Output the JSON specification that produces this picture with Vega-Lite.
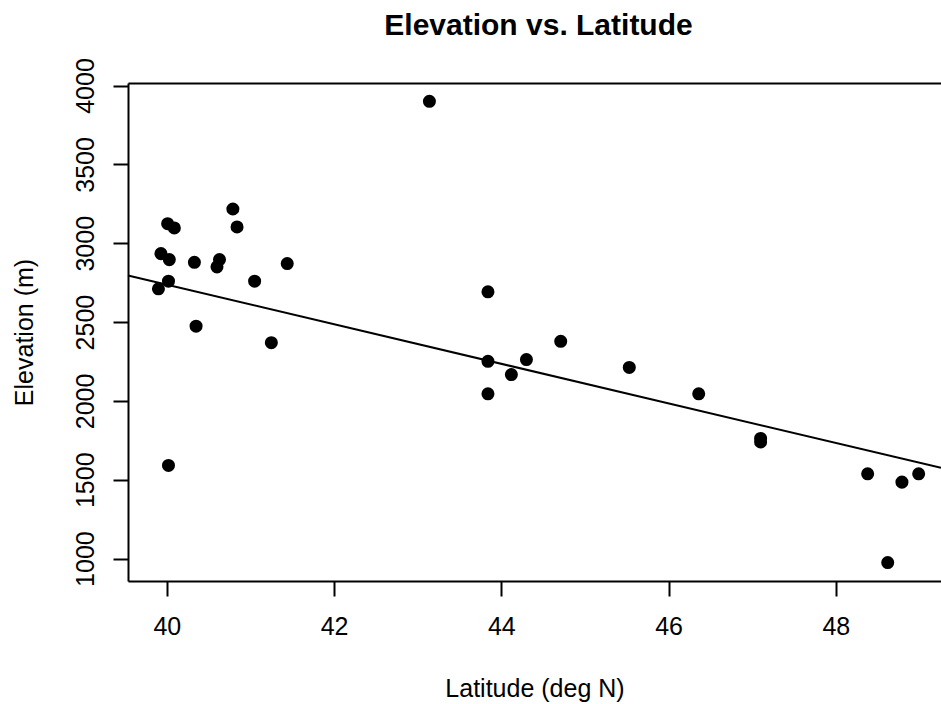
{
  "$schema": "https://vega.github.io/schema/vega-lite/v6.json",
  "autosize": "none",
  "width": 813,
  "height": 498,
  "padding": {"left": 128, "top": 83, "right": 0, "bottom": 123},
  "background": "white",
  "title": {
    "text": "Elevation vs. Latitude",
    "font": "Liberation Sans",
    "fontSize": 30,
    "fontWeight": "bold",
    "color": "black",
    "anchor": "middle",
    "frame": "group",
    "baseline": "alphabetic",
    "offset": -7,
    "dx": 4
  },
  "config": {
    "view": {"stroke": null},
    "axis": {
      "labelFont": "Liberation Sans",
      "titleFont": "Liberation Sans",
      "labelFontSize": 25,
      "titleFontSize": 25,
      "titleFontWeight": "normal",
      "labelColor": "black",
      "titleColor": "black",
      "domainColor": "black",
      "tickColor": "black",
      "domainWidth": 2,
      "tickWidth": 2,
      "tickSize": 15,
      "grid": false
    }
  },
  "datasets": {
    "sites": [
      {"lat": 43.14, "elev": 3900},
      {"lat": 40.79, "elev": 3217},
      {"lat": 40.84, "elev": 3103},
      {"lat": 40.01, "elev": 3124},
      {"lat": 40.09, "elev": 3097},
      {"lat": 39.93, "elev": 2934},
      {"lat": 40.03, "elev": 2896},
      {"lat": 40.33, "elev": 2879},
      {"lat": 40.63, "elev": 2896},
      {"lat": 40.6, "elev": 2850},
      {"lat": 41.44, "elev": 2871},
      {"lat": 41.05, "elev": 2759},
      {"lat": 40.02, "elev": 2759},
      {"lat": 39.9, "elev": 2711},
      {"lat": 40.35, "elev": 2474},
      {"lat": 41.25, "elev": 2369},
      {"lat": 43.84, "elev": 2692},
      {"lat": 40.02, "elev": 1591},
      {"lat": 43.84, "elev": 2251},
      {"lat": 43.84, "elev": 2045},
      {"lat": 44.12, "elev": 2167},
      {"lat": 44.3, "elev": 2262},
      {"lat": 44.71, "elev": 2378},
      {"lat": 45.53, "elev": 2212},
      {"lat": 46.36, "elev": 2045},
      {"lat": 47.1, "elev": 1762},
      {"lat": 47.1, "elev": 1740},
      {"lat": 48.38, "elev": 1538},
      {"lat": 48.79, "elev": 1485},
      {"lat": 48.99, "elev": 1538},
      {"lat": 48.62, "elev": 975}
    ],
    "fit": [
      {"lat": 39.536, "elev": 2795},
      {"lat": 49.257, "elev": 1576}
    ]
  },
  "layer": [
    {
      "data": {"name": "sites"},
      "mark": {"type": "point", "filled": true, "shape": "circle", "size": 170, "color": "black", "opacity": 1},
      "encoding": {
        "x": {
          "field": "lat",
          "type": "quantitative",
          "scale": {"domain": [39.536, 49.257], "nice": false, "zero": false},
          "axis": {
            "orient": "bottom",
            "values": [40, 42, 44, 46, 48],
            "format": "d",
            "title": "Latitude (deg N)",
            "labelBaseline": "top",
            "labelPadding": 18,
            "titlePadding": 37
          }
        },
        "y": {
          "field": "elev",
          "type": "quantitative",
          "scale": {"domain": [858, 4016], "nice": false, "zero": false},
          "axis": {
            "values": [1000, 1500, 2000, 2500, 3000, 3500, 4000],
            "format": "d",
            "title": "Elevation (m)",
            "labelAngle": -90,
            "labelAlign": "center",
            "labelBaseline": "alphabetic",
            "labelPadding": 20,
            "titlePadding": 36
          }
        }
      }
    },
    {
      "data": {"name": "fit"},
      "mark": {"type": "line", "color": "black", "strokeWidth": 2},
      "encoding": {
        "x": {
          "field": "lat",
          "type": "quantitative",
          "axis": {"orient": "top", "labels": false, "ticks": false, "title": null, "domain": true}
        },
        "y": {"field": "elev", "type": "quantitative"}
      }
    }
  ],
  "resolve": {"axis": {"x": "independent"}}
}
